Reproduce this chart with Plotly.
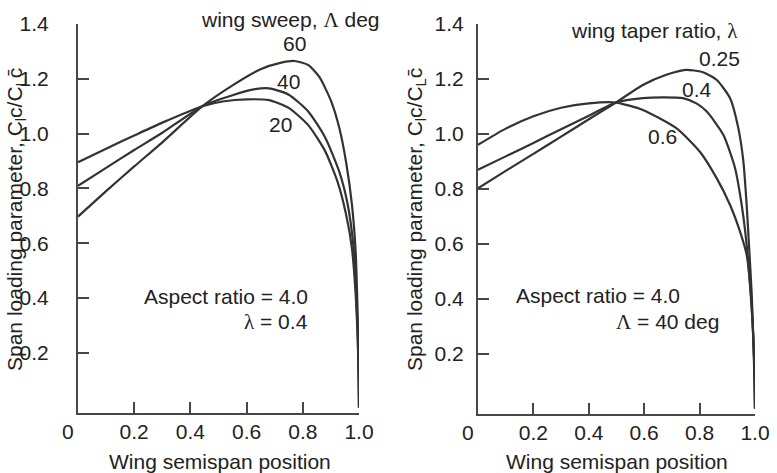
import plotly.graph_objects as go

# ---- Left panel: effect of wing sweep (aspect ratio 4.0, taper 0.4) ----
sweep_labels = ["60", "40", "20"]
sweep60_x = [0, 0.1, 0.2, 0.3, 0.443, 0.55, 0.65, 0.72, 0.77, 0.82, 0.86, 0.9, 0.93, 0.955, 0.975, 0.988, 0.995, 0.999, 1.0]
sweep60_y = [0.697, 0.79, 0.88, 0.968, 1.10, 1.176, 1.235, 1.258, 1.265, 1.25, 1.205, 1.12, 1.02, 0.89, 0.74, 0.57, 0.35, 0.15, 0.0]
sweep40_x = [0, 0.1, 0.2, 0.3, 0.443, 0.55, 0.63, 0.68, 0.75, 0.82, 0.88, 0.93, 0.96, 0.98, 0.99, 0.996, 0.999, 1.0]
sweep40_y = [0.809, 0.875, 0.94, 1.003, 1.10, 1.14, 1.162, 1.165, 1.142, 1.08, 0.985, 0.86, 0.74, 0.59, 0.42, 0.25, 0.1, 0.0]
sweep20_x = [0, 0.1, 0.2, 0.3, 0.443, 0.52, 0.6, 0.68, 0.75, 0.82, 0.88, 0.925, 0.955, 0.975, 0.987, 0.995, 0.999, 1.0]
sweep20_y = [0.895, 0.945, 0.993, 1.04, 1.10, 1.118, 1.125, 1.122, 1.094, 1.03, 0.935, 0.82, 0.70, 0.58, 0.43, 0.26, 0.1, 0.0]

# ---- Right panel: effect of taper ratio (aspect ratio 4.0, sweep 40 deg) ----
taper_labels = ["0.25", "0.4", "0.6"]
taper025_x = [0, 0.1, 0.2, 0.3, 0.4, 0.498, 0.595, 0.68, 0.75, 0.81, 0.862, 0.91, 0.94, 0.958, 0.97, 0.978, 0.988, 0.995, 1.0]
taper025_y = [0.802, 0.865, 0.927, 0.99, 1.053, 1.114, 1.178, 1.215, 1.233, 1.225, 1.196, 1.13, 1.02, 0.90, 0.74, 0.60, 0.42, 0.22, 0.0]
taper04_x = [0, 0.1, 0.2, 0.3, 0.4, 0.498, 0.595, 0.67, 0.74, 0.79, 0.826, 0.886, 0.928, 0.952, 0.97, 0.982, 0.992, 0.998, 1.0]
taper04_y = [0.869, 0.918, 0.967, 1.017, 1.066, 1.114, 1.13, 1.133, 1.13, 1.11, 1.081, 0.996, 0.875, 0.741, 0.595, 0.45, 0.30, 0.15, 0.0]
taper06_x = [0, 0.1, 0.2, 0.3, 0.4, 0.498, 0.595, 0.717, 0.801, 0.862, 0.91, 0.946, 0.97, 0.985, 0.994, 0.999, 1.0]
taper06_y = [0.96, 1.019, 1.064, 1.095, 1.111, 1.114, 1.087, 1.02, 0.935, 0.838, 0.741, 0.644, 0.559, 0.42, 0.25, 0.1, 0.0]

x_ticks = [0.2, 0.4, 0.6, 0.8, 1.0]
x_ticktext = ["0.2", "0.4", "0.6", "0.8", "1.0"]
y_ticks = [0.2, 0.4, 0.6, 0.8, 1.0, 1.2, 1.4]
y_ticktext = ["0.2", "0.4", "0.6", "0.8", "1.0", "1.2", "1.4"]

W, H = 777, 473
FONT = "Liberation Sans, Arial, Helvetica, sans-serif"
INK = "#222222"
LINE = "#333333"
AXIS = "#474747"


def px(x, y):
    """Pixel position -> paper coordinates."""
    return x / W, 1 - y / H


def greek(ch):
    return '<span style="font-family:Liberation Serif, Times New Roman, serif">' + ch + "</span>"


fig = go.Figure()

curve_style = dict(mode="lines", line=dict(color=LINE, width=2.2, shape="spline", smoothing=0.6),
                   hoverinfo="skip", showlegend=False)

for xs, ys in [(sweep60_x, sweep60_y), (sweep40_x, sweep40_y), (sweep20_x, sweep20_y)]:
    fig.add_trace(go.Scatter(x=xs, y=ys, xaxis="x", yaxis="y", **curve_style))
for xs, ys in [(taper025_x, taper025_y), (taper04_x, taper04_y), (taper06_x, taper06_y)]:
    fig.add_trace(go.Scatter(x=xs, y=ys, xaxis="x2", yaxis="y2", **curve_style))

axis_common = dict(showline=True, linewidth=2, linecolor=AXIS, ticks="inside", ticklen=11,
                   tickwidth=2, tickcolor=AXIS, showgrid=False, zeroline=False, automargin=False,
                   tickfont=dict(family=FONT, size=21, color=INK))

fig.update_layout(
    template="none",
    width=W, height=H,
    margin=dict(l=0, r=0, t=0, b=0, pad=0),
    paper_bgcolor="white", plot_bgcolor="white",
    xaxis=dict(domain=[78 / W, 359 / W], range=[0, 1.0], tickvals=x_ticks, ticktext=x_ticktext,
               anchor="y", ticklabelstandoff=-1, **axis_common),
    yaxis=dict(domain=[1 - 413 / H, 1 - 24 / H], range=[-0.02, 1.4], tickvals=y_ticks,
               ticktext=y_ticktext, anchor="x", ticklabelstandoff=23, **axis_common),
    xaxis2=dict(domain=[478 / W, 755 / W], range=[0, 1.0], tickvals=x_ticks, ticktext=x_ticktext,
                anchor="y2", ticklabelstandoff=-1, **axis_common),
    yaxis2=dict(domain=[1 - 414 / H, 1 - 24 / H], range=[-0.02, 1.4], tickvals=y_ticks,
                ticktext=y_ticktext, anchor="x2", ticklabelstandoff=8, **axis_common),
)

ylabel = "Span loading parameter, C<sub>l</sub>c/C<sub>L</sub>c\u0304"
annotations = []


def note(text, x, y, xanchor="center", angle=0):
    ax, ay = px(x, y)
    annotations.append(dict(text=text, x=ax, y=ay, xref="paper", yref="paper", xanchor=xanchor,
                            yanchor="middle", showarrow=False, textangle=angle, borderpad=0,
                            font=dict(family=FONT, size=21, color=INK)))


# axis titles and origin labels
note(ylabel, 16, 220, angle=-90)
note(ylabel, 416, 220, angle=-90)
note("Wing semispan position", 220, 461)
note("Wing semispan position", 617, 461)
note("0", 68, 431)
note("0", 468, 432)

# left panel labels
note("wing sweep, " + greek("\u039b") + " deg", 381, 20, xanchor="right")
note(sweep_labels[0], 294, 43)
note(sweep_labels[1], 288, 82)
note(sweep_labels[2], 280, 124)
note("Aspect ratio = 4.0", 309, 296, xanchor="right")
note(greek("\u03bb") + " = 0.4", 309, 322, xanchor="right")

# right panel labels
note("wing taper ratio, " + greek("\u03bb"), 739, 31, xanchor="right")
note(taper_labels[0], 719, 58)
note(taper_labels[1], 697, 90)
note(taper_labels[2], 662, 137)
note("Aspect ratio = 4.0", 515, 295, xanchor="left")
note(greek("\u039b") + " = 40 deg", 720, 322, xanchor="right")

fig.update_layout(annotations=annotations)

fig.write_html("out.html")
